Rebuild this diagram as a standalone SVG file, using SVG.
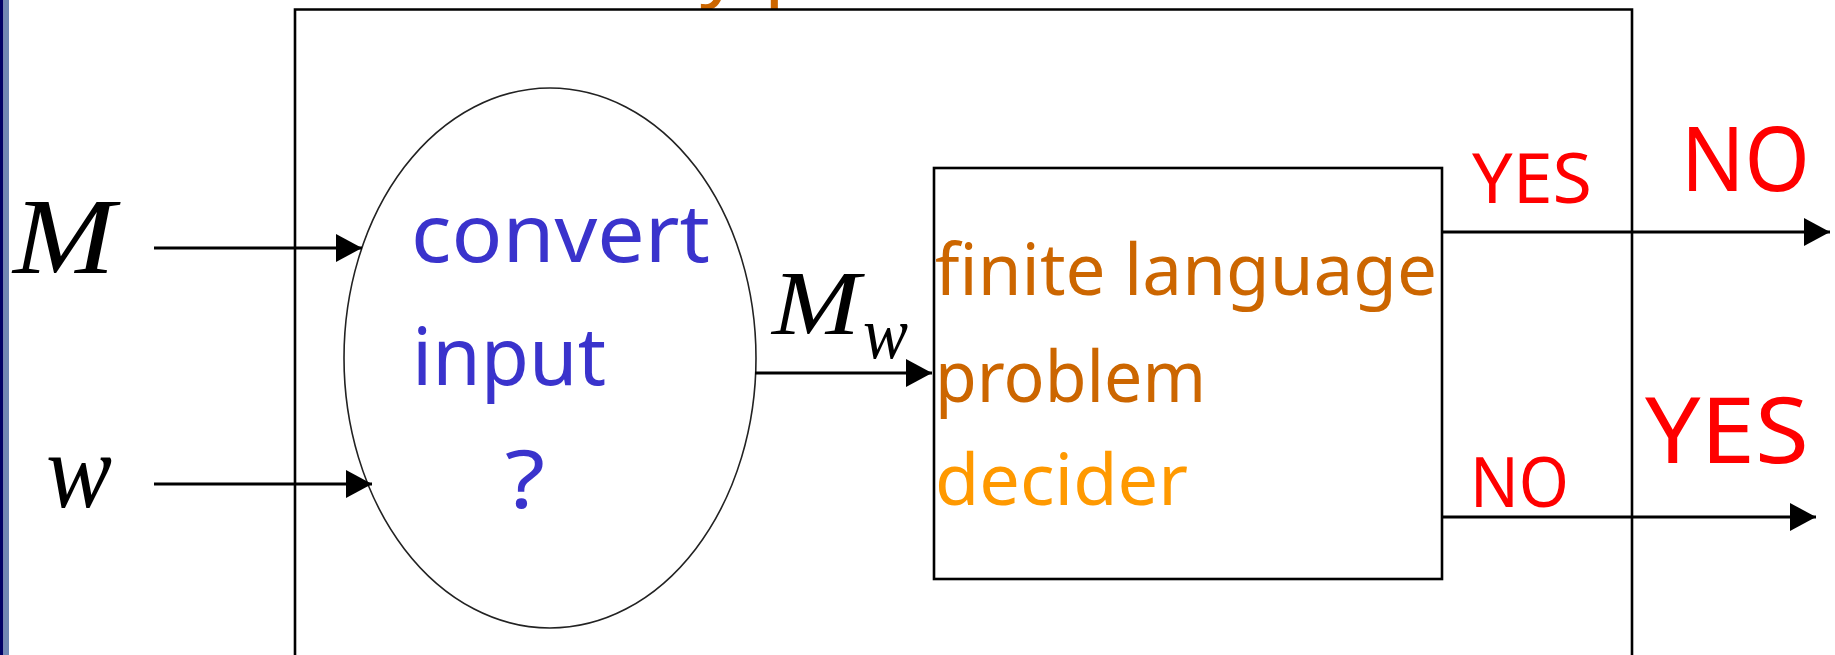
<svg xmlns="http://www.w3.org/2000/svg" width="1835" height="655" viewBox="0 0 1835 655">
  <style>
    .math { font-family: "Liberation Serif", "Times New Roman", serif; font-style: italic; fill: #000; }
    .hand { font-family: "Comic Sans MS", "Noto Sans", "Liberation Sans", sans-serif; }
    .blue { fill: #3a33cc; }
    .orange { fill: #cc6600; }
    .lorange { fill: #ff9900; }
    .red { fill: #ff0000; }
    .box { fill: none; stroke: #000; stroke-width: 2.6; }
    .conn { stroke: #000; stroke-width: 2.8; fill: none; }
  </style>
  <defs>
    <marker id="arrow" markerUnits="userSpaceOnUse" markerWidth="26" markerHeight="28" refX="26" refY="14" orient="auto">
      <path d="M0,0 L26,14 L0,28 Z" fill="#000"/>
    </marker>
  </defs>
  <rect width="1835" height="655" fill="#fff"/>
  <!-- left slide edge -->
  <rect x="0" y="0" width="3.5" height="655" fill="#000066"/>
  <rect x="3.5" y="0" width="5.5" height="655" fill="#7088b4"/>

  <!-- cut-off title fragments -->
  <text class="hand orange" x="700" y="-9" font-size="80">y</text>
  <text class="hand orange" x="764" y="-9" font-size="80">p</text>

  <g id="outer-box">
    <path class="box" d="M295,700 L295,9.5 L1632,9.5 L1632,700"/>
  </g>

  <g id="input-M">
    <text class="math" x="13" y="273" font-size="107" textLength="102" lengthAdjust="spacingAndGlyphs">M</text>
  </g>
  <g id="input-w">
    <text class="math" x="46" y="507" font-size="107" textLength="66" lengthAdjust="spacingAndGlyphs">w</text>
  </g>

  <g id="convert">
    <ellipse cx="550" cy="358" rx="206" ry="270" fill="none" stroke="#222" stroke-width="1.6"/>
    <text class="hand blue" x="411" y="262" font-size="80" textLength="299" lengthAdjust="spacingAndGlyphs">convert</text>
    <text class="hand blue" x="412" y="385" font-size="80" textLength="194" lengthAdjust="spacingAndGlyphs">input</text>
    <text class="hand blue" x="505" y="508" font-size="80" textLength="40" lengthAdjust="spacingAndGlyphs">?</text>
  </g>

  <g id="label-Mw">
    <text class="math" x="772" y="334" font-size="91" textLength="88" lengthAdjust="spacingAndGlyphs">M</text>
    <text class="math" x="863" y="358" font-size="73" textLength="45" lengthAdjust="spacingAndGlyphs">w</text>
  </g>

  <g id="decider">
    <rect class="box" x="934" y="168" width="508" height="411"/>
    <text class="hand orange" x="935" y="295" font-size="72" textLength="502" lengthAdjust="spacingAndGlyphs">finite language</text>
    <text class="hand orange" x="935" y="402" font-size="72" textLength="271" lengthAdjust="spacingAndGlyphs">problem</text>
    <text class="hand lorange" x="935" y="505" font-size="72" textLength="253" lengthAdjust="spacingAndGlyphs">decider</text>
  </g>

  <g id="labels-out">
    <text class="hand red" x="1472" y="203" font-size="70" textLength="120" lengthAdjust="spacingAndGlyphs">YES</text>
    <text class="hand red" x="1470" y="507" font-size="69" textLength="99" lengthAdjust="spacingAndGlyphs">NO</text>
    <text class="hand red" x="1681" y="191" font-size="90" textLength="129" lengthAdjust="spacingAndGlyphs">NO</text>
    <text class="hand red" x="1645" y="463" font-size="92" textLength="164" lengthAdjust="spacingAndGlyphs">YES</text>
  </g>

  <g id="connectors">
    <line class="conn" x1="154" y1="248" x2="362" y2="248" marker-end="url(#arrow)"/>
    <line class="conn" x1="154" y1="484" x2="372" y2="484" marker-end="url(#arrow)"/>
    <line class="conn" x1="755" y1="373" x2="932" y2="373" marker-end="url(#arrow)"/>
    <line class="conn" x1="1442" y1="232" x2="1830" y2="232" marker-end="url(#arrow)"/>
    <line class="conn" x1="1442" y1="517" x2="1816" y2="517" marker-end="url(#arrow)"/>
  </g>
</svg>
